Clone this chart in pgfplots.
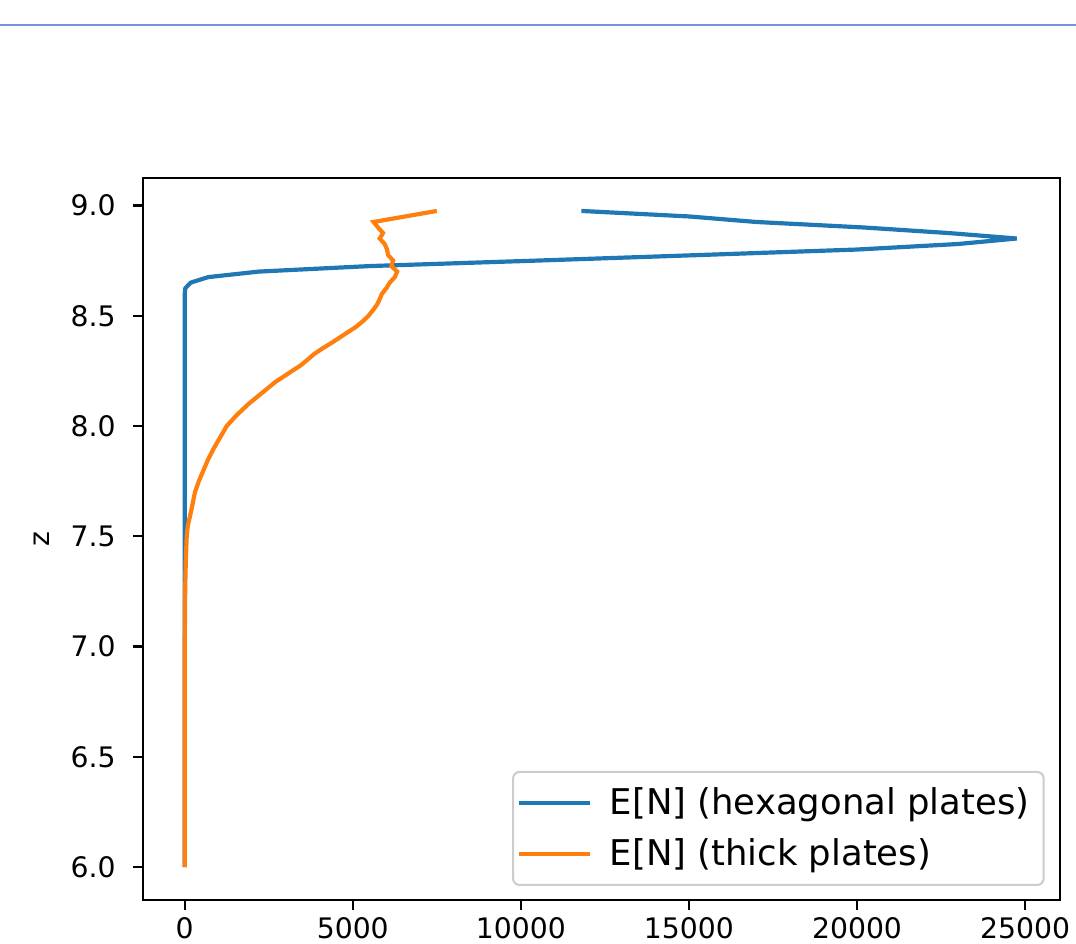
\documentclass[border=0pt]{standalone}
\usepackage{fontspec}
\setmainfont{DejaVu Sans}
\usepackage{pgfplots}
\pgfplotsset{compat=1.18}
\definecolor{mplblue}{HTML}{1F77B4}
\definecolor{mplorange}{HTML}{FF7F0E}
\definecolor{cellblue}{rgb}{0.45,0.58,0.86}
\definecolor{legframe}{HTML}{CCCCCC}
\begin{document}
\begin{tikzpicture}
\begin{axis}[
  name=ax,
  at={(0,0)}, anchor=south west,
  scale only axis,
  width=356.9pt, height=281pt,
  xmin=-1240, xmax=26040,
  ymin=5.851, ymax=9.124,
  xtick={0,5000,10000,15000,20000,25000},
  ytick={6,6.5,7,7.5,8,8.5,9},
  scaled x ticks=false,
  tick pos=left,
  tick align=outside,
  major tick length=3.8pt,
  every tick/.style={black, line width=0.87pt},
  axis line style={line width=0.87pt},
  /pgf/number format/assume math mode=true,
  xticklabel style={/pgf/number format/1000 sep={}, font=\fontsize{11}{13}\selectfont, yshift=0.4pt},
  yticklabel style={/pgf/number format/fixed, /pgf/number format/fixed zerofill, /pgf/number format/precision=1, font=\fontsize{11}{13}\selectfont, xshift=-3.3pt},
  ylabel={z},
  every axis y label/.style={at={(axis description cs:-0.110,0.5)}, rotate=90, anchor=center, font=\fontsize{11}{13}\selectfont},
  legend cell align=left,
  legend style={at={(1,0)}, anchor=south east, xshift=-6pt, yshift=5.5pt,
    draw=legframe, line width=0.8pt, rounded corners=2.5pt, fill=white,
    font=\fontsize{13.8}{16}\selectfont, row sep=0pt,
    inner xsep=1.5pt, inner ysep=2pt,
    nodes={inner sep=4pt},
    /tikz/every odd column/.append style={column sep=2.9pt}},
  legend image code/.code={\draw[#1] (0pt,0pt) -- (27.6pt,0pt);},
]
\addplot[mplblue, line width=1.63pt] coordinates {
(0,6.0) (0,8.6) (20,8.625) (180,8.65) (700,8.675) (2200,8.7) (5500,8.725) (10500,8.75) (15300,8.775) (20000,8.8) (23000,8.825) (24750,8.85) (22700,8.875) (20200,8.9) (17000,8.925) (15000,8.95) (11800,8.975)
};
\addlegendentry{E[N] (hexagonal plates)}
\addplot[mplorange, line width=1.63pt] coordinates {
(0,6.0) (2,7.0) (10,7.2) (20,7.3) (35,7.4) (60,7.5) (95,7.55) (170,7.6) (240,7.65) (305,7.7) (420,7.75) (560,7.8) (700,7.85) (870,7.9) (1060,7.95) (1250,8.0) (1550,8.05) (1900,8.1) (2300,8.15) (2700,8.2) (3200,8.25) (3450,8.275) (3650,8.3) (3840,8.325) (4080,8.35) (4350,8.375) (4600,8.4) (4850,8.425) (5100,8.45) (5300,8.475) (5470,8.5) (5600,8.525) (5720,8.55) (5800,8.575) (5870,8.6) (6000,8.625) (6100,8.65) (6250,8.675) (6320,8.7) (6150,8.725) (6200,8.75) (6050,8.775) (6020,8.8) (5950,8.825) (5800,8.85) (5900,8.875) (5750,8.9) (5620,8.925) (6560,8.95) (7500,8.975)
};
\addlegendentry{E[N] (thick plates)}
\end{axis}
\draw[cellblue, line width=0.8pt] (-55.66pt,340.6pt) -- (363.1pt,340.6pt);
\pgfresetboundingbox
\useasboundingbox (-55.66pt,-17pt) rectangle (363.1pt,350.3pt);
\end{tikzpicture}
\end{document}
